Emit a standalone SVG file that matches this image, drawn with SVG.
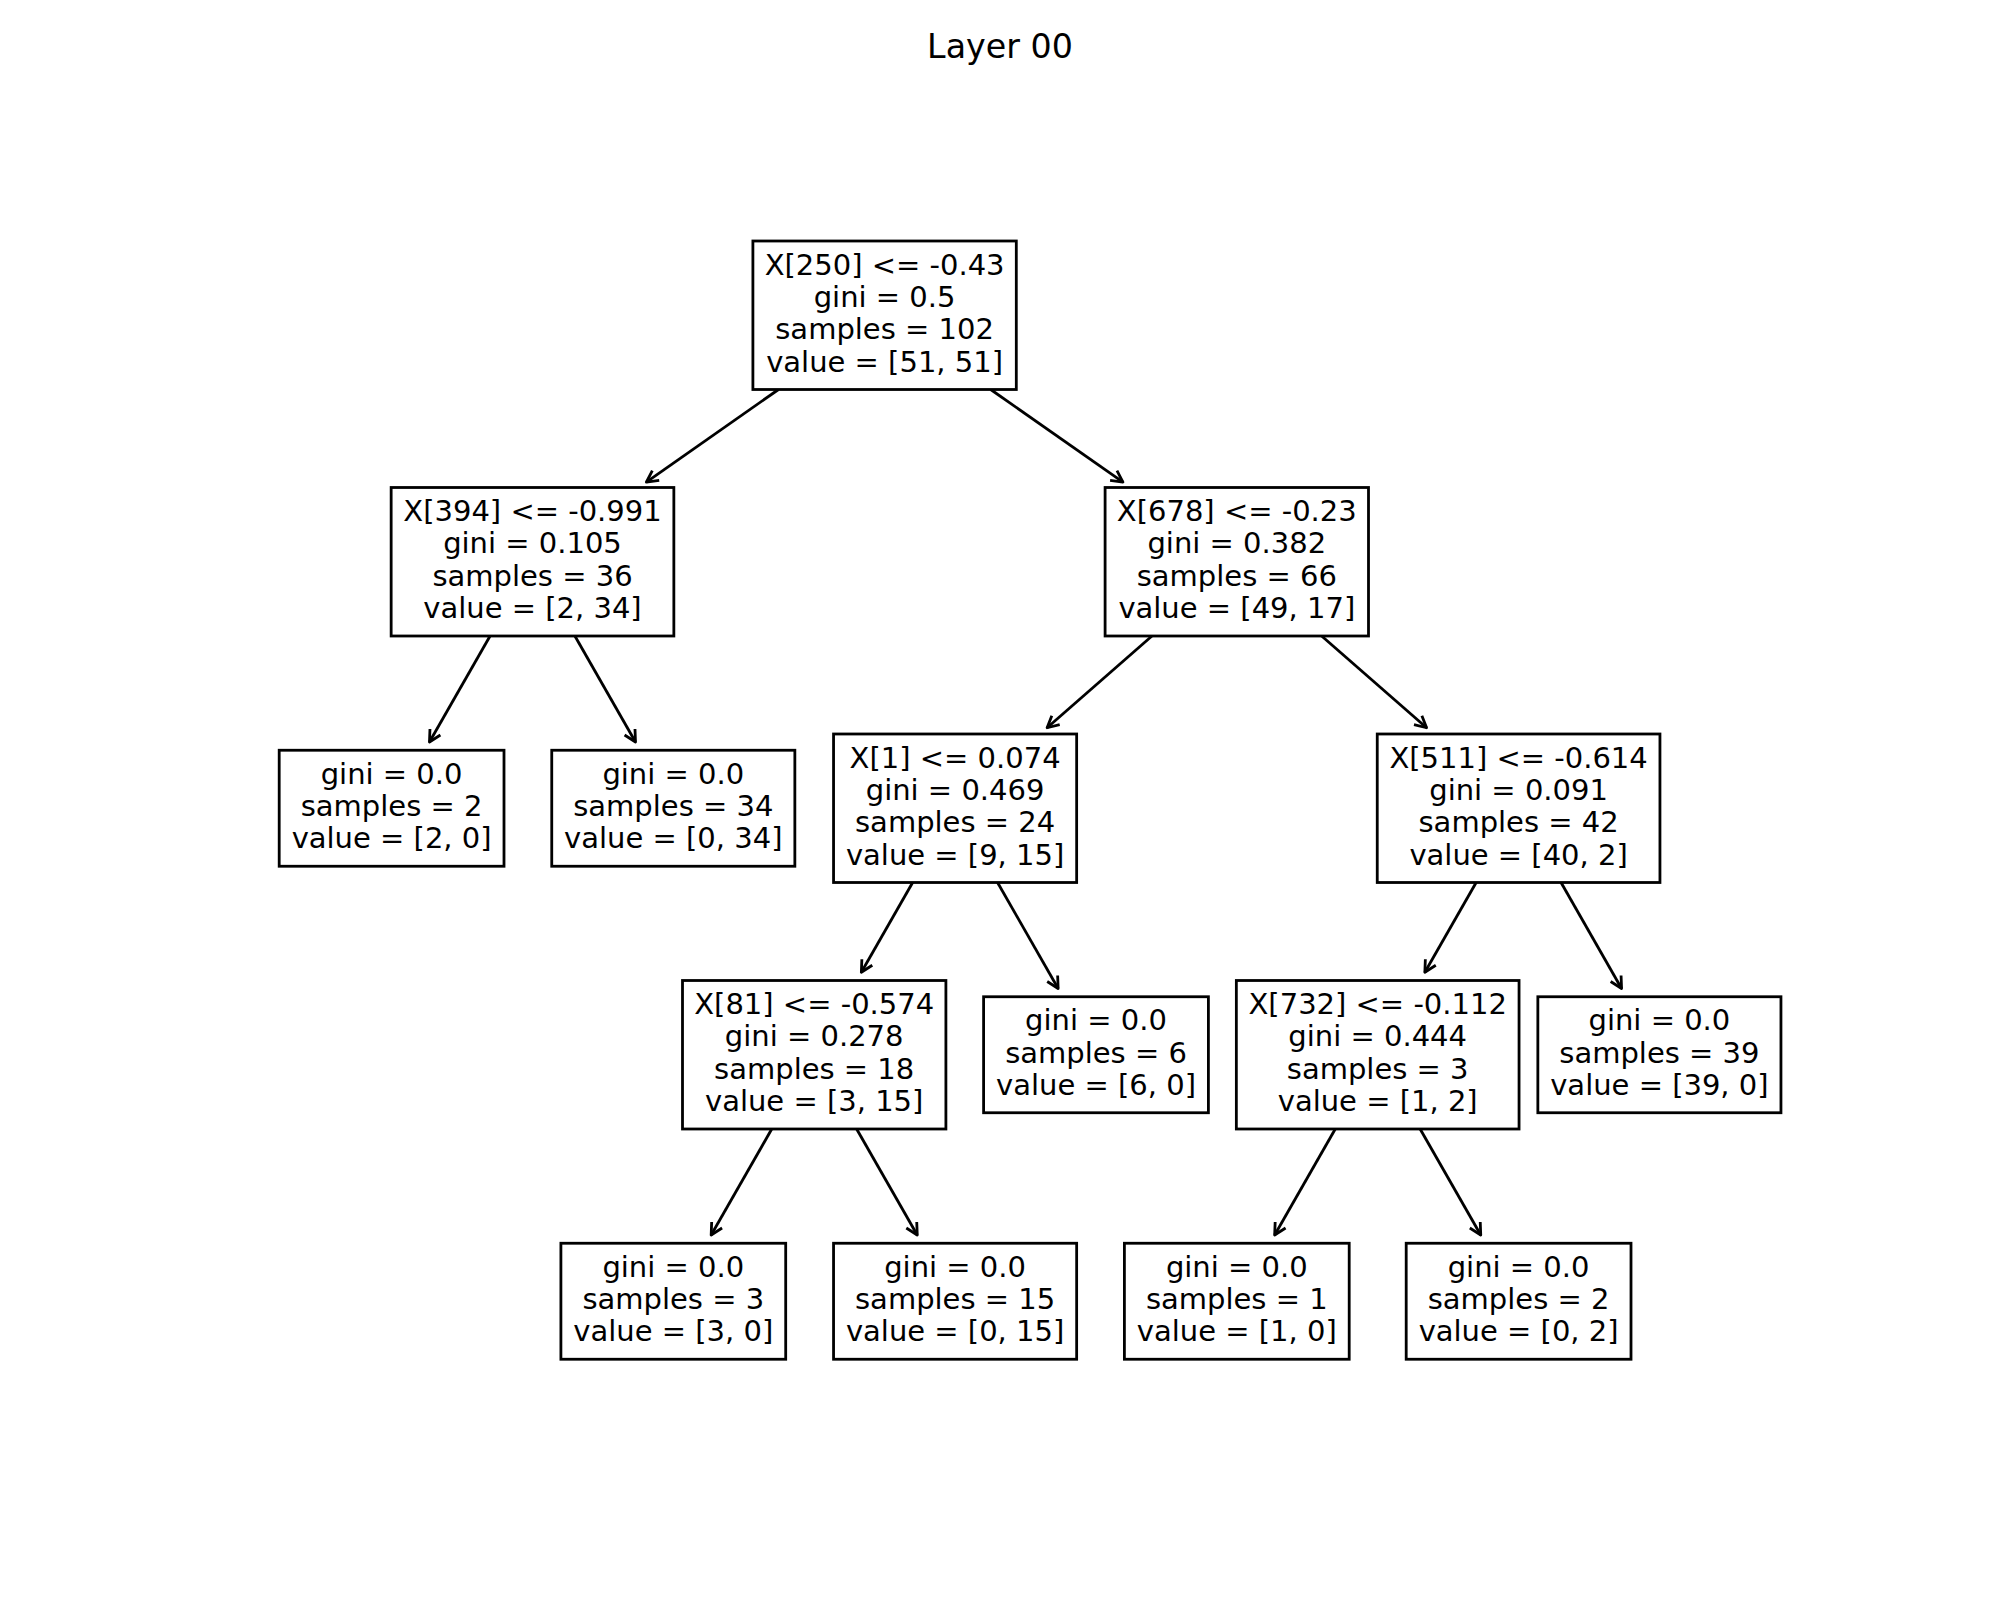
<svg xmlns="http://www.w3.org/2000/svg" width="2000" height="1600" viewBox="0 0 2000 1600">
<style>
.bg{fill:#ffffff}
.box{fill:#ffffff;stroke:#000000;stroke-width:2.8}
.t{font-family:"DejaVu Sans","Liberation Sans",sans-serif;font-size:29px;text-anchor:middle;fill:#000000}
.title{font-family:"DejaVu Sans","Liberation Sans",sans-serif;font-size:33.3px;text-anchor:middle;fill:#000000}
.edge{stroke:#000000;stroke-width:2.8;fill:none;marker-end:url(#head)}
</style>
<defs>
<marker id="head" markerUnits="userSpaceOnUse" orient="auto" refX="0" refY="0" markerWidth="20" markerHeight="20" overflow="visible">
<path d="M-11.5,-6 L0,0 L-11.5,6" fill="none" stroke="#000000" stroke-width="2.8" stroke-linejoin="round"/>
</marker>
</defs>
<rect class="bg" x="0" y="0" width="2000" height="1600"/>
<text class="title" x="1000" y="58">Layer 00</text>
<g id="connectors">
<line class="edge" x1="778.5" y1="389.5" x2="646.34" y2="482.05"/>
<line class="edge" x1="990.7" y1="389.5" x2="1122.96" y2="482.05"/>
<line class="edge" x1="490.06" y1="636" x2="429.47" y2="742"/>
<line class="edge" x1="574.9" y1="636" x2="635.49" y2="742"/>
<line class="edge" x1="1151.95" y1="636" x2="1047.1" y2="727.74"/>
<line class="edge" x1="1321.65" y1="636" x2="1426.59" y2="727.74"/>
<line class="edge" x1="912.66" y1="882.5" x2="861.36" y2="972.25"/>
<line class="edge" x1="997.54" y1="882.5" x2="1058.14" y2="988.5"/>
<line class="edge" x1="1476.16" y1="882.5" x2="1424.86" y2="972.25"/>
<line class="edge" x1="1561.04" y1="882.5" x2="1621.56" y2="988.5"/>
<line class="edge" x1="771.76" y1="1129" x2="711.17" y2="1235"/>
<line class="edge" x1="856.64" y1="1129" x2="917.24" y2="1235"/>
<line class="edge" x1="1335.26" y1="1129" x2="1274.67" y2="1235"/>
<line class="edge" x1="1420.14" y1="1129" x2="1480.74" y2="1235"/>
</g>
<g id="node0">
<rect class="box" x="752.9" y="241" width="263.4" height="148.5"/>
<text class="t"><tspan x="884.6" y="274.6">X[250] &lt;= -0.43</tspan><tspan x="884.6" y="306.9">gini = 0.5</tspan><tspan x="884.6" y="339.2">samples = 102</tspan><tspan x="884.6" y="371.5">value = [51, 51]</tspan></text>
</g>
<g id="node1">
<rect class="box" x="391.15" y="487.5" width="282.7" height="148.5"/>
<text class="t"><tspan x="532.5" y="521.1">X[394] &lt;= -0.991</tspan><tspan x="532.5" y="553.4">gini = 0.105</tspan><tspan x="532.5" y="585.7">samples = 36</tspan><tspan x="532.5" y="618">value = [2, 34]</tspan></text>
</g>
<g id="node2">
<rect class="box" x="279.2" y="750.25" width="224.8" height="116"/>
<text class="t"><tspan x="391.6" y="783.75">gini = 0.0</tspan><tspan x="391.6" y="816.05">samples = 2</tspan><tspan x="391.6" y="848.35">value = [2, 0]</tspan></text>
</g>
<g id="node3">
<rect class="box" x="551.75" y="750.25" width="243.1" height="116"/>
<text class="t"><tspan x="673.3" y="783.75">gini = 0.0</tspan><tspan x="673.3" y="816.05">samples = 34</tspan><tspan x="673.3" y="848.35">value = [0, 34]</tspan></text>
</g>
<g id="node4">
<rect class="box" x="1105.1" y="487.5" width="263.4" height="148.5"/>
<text class="t"><tspan x="1236.8" y="521.1">X[678] &lt;= -0.23</tspan><tspan x="1236.8" y="553.4">gini = 0.382</tspan><tspan x="1236.8" y="585.7">samples = 66</tspan><tspan x="1236.8" y="618">value = [49, 17]</tspan></text>
</g>
<g id="node5">
<rect class="box" x="833.55" y="734" width="243.1" height="148.5"/>
<text class="t"><tspan x="955.1" y="767.6">X[1] &lt;= 0.074</tspan><tspan x="955.1" y="799.9">gini = 0.469</tspan><tspan x="955.1" y="832.2">samples = 24</tspan><tspan x="955.1" y="864.5">value = [9, 15]</tspan></text>
</g>
<g id="node6">
<rect class="box" x="682.5" y="980.5" width="263.4" height="148.5"/>
<text class="t"><tspan x="814.2" y="1014.1">X[81] &lt;= -0.574</tspan><tspan x="814.2" y="1046.4">gini = 0.278</tspan><tspan x="814.2" y="1078.7">samples = 18</tspan><tspan x="814.2" y="1111">value = [3, 15]</tspan></text>
</g>
<g id="node7">
<rect class="box" x="560.9" y="1243.25" width="224.8" height="116"/>
<text class="t"><tspan x="673.3" y="1276.75">gini = 0.0</tspan><tspan x="673.3" y="1309.05">samples = 3</tspan><tspan x="673.3" y="1341.35">value = [3, 0]</tspan></text>
</g>
<g id="node8">
<rect class="box" x="833.55" y="1243.25" width="243.1" height="116"/>
<text class="t"><tspan x="955.1" y="1276.75">gini = 0.0</tspan><tspan x="955.1" y="1309.05">samples = 15</tspan><tspan x="955.1" y="1341.35">value = [0, 15]</tspan></text>
</g>
<g id="node9">
<rect class="box" x="983.6" y="996.75" width="224.8" height="116"/>
<text class="t"><tspan x="1096" y="1030.25">gini = 0.0</tspan><tspan x="1096" y="1062.55">samples = 6</tspan><tspan x="1096" y="1094.85">value = [6, 0]</tspan></text>
</g>
<g id="node10">
<rect class="box" x="1377.25" y="734" width="282.7" height="148.5"/>
<text class="t"><tspan x="1518.6" y="767.6">X[511] &lt;= -0.614</tspan><tspan x="1518.6" y="799.9">gini = 0.091</tspan><tspan x="1518.6" y="832.2">samples = 42</tspan><tspan x="1518.6" y="864.5">value = [40, 2]</tspan></text>
</g>
<g id="node11">
<rect class="box" x="1236.35" y="980.5" width="282.7" height="148.5"/>
<text class="t"><tspan x="1377.7" y="1014.1">X[732] &lt;= -0.112</tspan><tspan x="1377.7" y="1046.4">gini = 0.444</tspan><tspan x="1377.7" y="1078.7">samples = 3</tspan><tspan x="1377.7" y="1111">value = [1, 2]</tspan></text>
</g>
<g id="node12">
<rect class="box" x="1124.4" y="1243.25" width="224.8" height="116"/>
<text class="t"><tspan x="1236.8" y="1276.75">gini = 0.0</tspan><tspan x="1236.8" y="1309.05">samples = 1</tspan><tspan x="1236.8" y="1341.35">value = [1, 0]</tspan></text>
</g>
<g id="node13">
<rect class="box" x="1406.2" y="1243.25" width="224.8" height="116"/>
<text class="t"><tspan x="1518.6" y="1276.75">gini = 0.0</tspan><tspan x="1518.6" y="1309.05">samples = 2</tspan><tspan x="1518.6" y="1341.35">value = [0, 2]</tspan></text>
</g>
<g id="node14">
<rect class="box" x="1537.85" y="996.75" width="243.1" height="116"/>
<text class="t"><tspan x="1659.4" y="1030.25">gini = 0.0</tspan><tspan x="1659.4" y="1062.55">samples = 39</tspan><tspan x="1659.4" y="1094.85">value = [39, 0]</tspan></text>
</g>
</svg>
